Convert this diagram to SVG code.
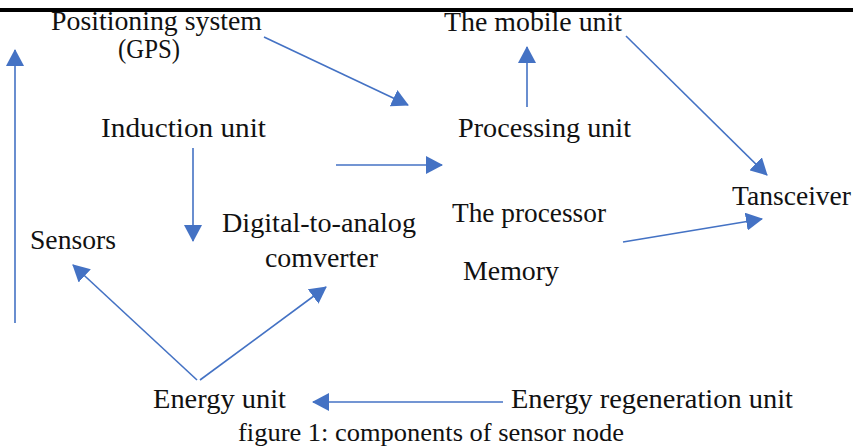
<svg xmlns="http://www.w3.org/2000/svg" width="853" height="447" viewBox="0 0 853 447">
<style>
text{font-size:28px;fill:#111}
.c{stroke:#4472C4;stroke-width:1.6;fill:none;marker-end:url(#ah)}
</style>
<defs>
<marker id="ah" viewBox="0 0 17 18" refX="16" refY="9" markerWidth="17" markerHeight="18" markerUnits="userSpaceOnUse" orient="auto">
<path d="M0,0 L17,9 L0,18 Z" fill="#4472C4"/>
</marker>
</defs>
<rect x="0" y="0" width="853" height="447" fill="#fff"/>
<rect x="0" y="8" width="853" height="4" fill="#000"/>
<g id="connectors">
<line class="c" x1="15" y1="323" x2="15" y2="50"/>
<line class="c" x1="264" y1="37" x2="408" y2="105"/>
<line class="c" x1="527" y1="107" x2="527" y2="47"/>
<line class="c" x1="626" y1="36" x2="767" y2="175"/>
<line class="c" x1="193" y1="148" x2="193" y2="241"/>
<line class="c" x1="336" y1="165" x2="442" y2="165"/>
<line class="c" x1="623" y1="242" x2="762" y2="219"/>
<line class="c" x1="197" y1="380" x2="73" y2="265"/>
<line class="c" x1="200" y1="380" x2="326" y2="287"/>
<line class="c" x1="503" y1="402" x2="313" y2="402"/>
</g>
<g font-family="Liberation Serif, DejaVu Serif, serif">
<g id="gps"><text x="51" y="30" textLength="211" lengthAdjust="spacingAndGlyphs">Positioning system</text><text x="118" y="58" textLength="62" lengthAdjust="spacingAndGlyphs">(GPS)</text></g>
<g id="mobile"><text x="444" y="31" textLength="178" lengthAdjust="spacingAndGlyphs">The mobile unit</text></g>
<g id="induction"><text x="101" y="137" textLength="165" lengthAdjust="spacingAndGlyphs">Induction unit</text></g>
<g id="processing"><text x="458" y="137" textLength="173" lengthAdjust="spacingAndGlyphs">Processing unit</text></g>
<g id="transceiver"><text x="732" y="205" textLength="119" lengthAdjust="spacingAndGlyphs">Tansceiver</text></g>
<g id="processor"><text x="452" y="222" textLength="154" lengthAdjust="spacingAndGlyphs">The processor</text></g>
<g id="sensors"><text x="30" y="249" textLength="86" lengthAdjust="spacingAndGlyphs">Sensors</text></g>
<g id="dac"><text x="222" y="232" textLength="194" lengthAdjust="spacingAndGlyphs">Digital-to-analog</text><text x="265" y="267" textLength="113" lengthAdjust="spacingAndGlyphs">comverter</text></g>
<g id="memory"><text x="463" y="280" textLength="96" lengthAdjust="spacingAndGlyphs">Memory</text></g>
<g id="energy"><text x="153" y="408" textLength="133" lengthAdjust="spacingAndGlyphs">Energy unit</text></g>
<g id="regen"><text x="511" y="408" textLength="282" lengthAdjust="spacingAndGlyphs">Energy regeneration unit</text></g>
<g id="caption"><text x="238" y="441" textLength="386" lengthAdjust="spacingAndGlyphs" style="font-size:25px">figure 1: components of sensor node</text></g>
</g>
</svg>
